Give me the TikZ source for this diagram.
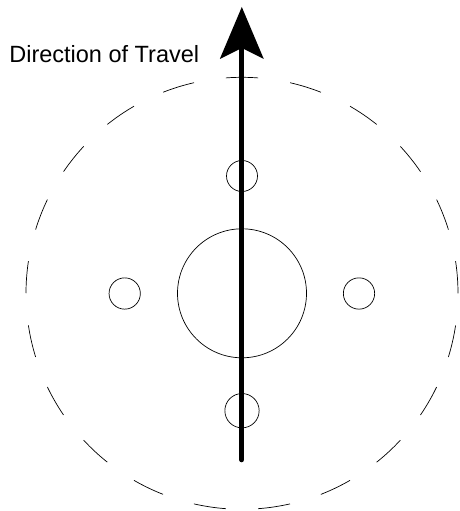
\documentclass[tikz,border=0pt]{standalone}
\usepackage{fontspec}
\setmainfont{Liberation Sans}
\usetikzlibrary{
	arrows.meta,
	positioning
}
\tikzset{
	wheel/.style={circle,draw,line width=0.7pt,inner sep=0pt,minimum size=#1}
}
\begin{document}
\begin{tikzpicture}[x=1pt,y=-1pt,line width=0.7pt]
		\useasboundingbox (0,0) rectangle (459,511);
		
		%dashed path circle
		\foreach \i in {0,...,20}
			\draw ({242+216*cos(90+\i*360/21-4.3)},{293.3-216*sin(90+\i*360/21-4.3)}) arc[start angle={-90-\i*360/21+4.3},delta angle=-8.57,radius=216];
		
		%hub and wheels
		\node[wheel=129pt] (hub) at (242,293.3) {};
		\node[wheel=31pt] (front) at (242,176) {};
		\node[wheel=34.3pt] (rear) at (242,410.7) {};
		\node[wheel=31.3pt] (left) at (124.7,293.5) {};
		\node[wheel=31.3pt] (right) at (359,293.5) {};
		
		%direction arrow
		\coordinate (tail) at (241.8,459.8);
		\coordinate (head) at (241.8,7);
		\draw[line width=5pt,line cap=round,-{Stealth[length=52pt,width=44pt,inset=11pt,line width=0pt]}] (tail)--(head);
		
		\node[anchor=west,inner sep=0pt,font=\fontsize{23.5}{28}\selectfont] (label) at (9,54) {Direction of Travel};
	\end{tikzpicture}
\end{document}
